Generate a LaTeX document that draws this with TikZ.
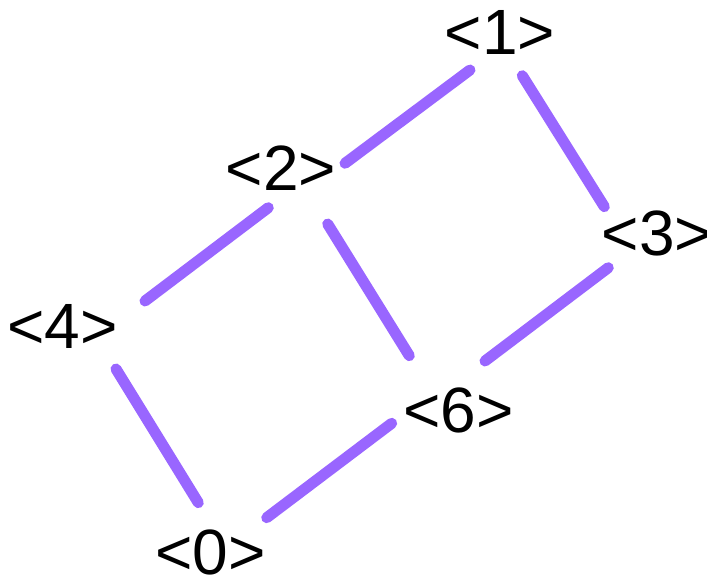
\documentclass[tikz,border=0pt]{standalone}
\usepackage{fontspec}
\setmainfont{Liberation Sans}
\definecolor{edgepurple}{RGB}{153,102,255}
\begin{document}
\begin{tikzpicture}[x=1pt,y=-1pt,
  lbl/.style={anchor=base,inner sep=0pt,font=\fontsize{64}{70}\selectfont},
  edge/.style={draw=edgepurple,line width=11pt,line cap=round}]
\useasboundingbox (0,0) rectangle (707,575);
\node[lbl] (n1) at (500,55) {<1>};
\node[lbl] (n2) at (281,190) {<2>};
\node[lbl] (n3) at (657,255) {<3>};
\node[lbl] (n4) at (62.5,348) {<4>};
\node[lbl] (n6) at (458.5,432) {<6>};
\node[lbl] (n0) at (210.5,574) {<0>};
\path[edge] ([shift={(-30,15)}]n1.base) -- ([shift={(64,-26.7)}]n2.base);
\path[edge] ([shift={(22.3,20.7)}]n1.base) -- ([shift={(-52.7,-48.3)}]n3.base);
\path[edge] ([shift={(-12.7,17.7)}]n2.base) -- ([shift={(82.5,-47)}]n4.base);
\path[edge] ([shift={(46.7,34)}]n2.base) -- ([shift={(-49.2,-76.3)}]n6.base);
\path[edge] ([shift={(-48.7,12.7)}]n3.base) -- ([shift={(26.5,-71)}]n6.base);
\path[edge] ([shift={(53.5,21)}]n4.base) -- ([shift={(-12.2,-71.3)}]n0.base);
\path[edge] ([shift={(-66.8,-8.7)}]n6.base) -- ([shift={(56.2,-56.3)}]n0.base);
\end{tikzpicture}
\end{document}
